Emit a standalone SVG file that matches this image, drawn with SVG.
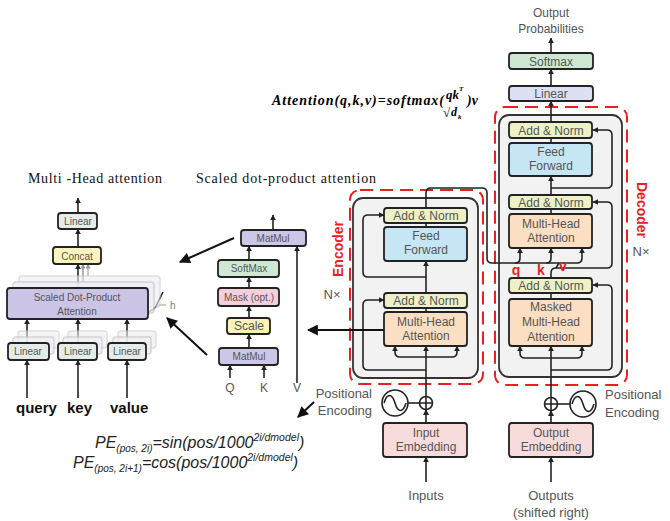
<svg xmlns="http://www.w3.org/2000/svg" width="670" height="521" viewBox="0 0 670 521">
<defs>
<marker id="ah" viewBox="0 0 10 10" refX="9" refY="5" markerWidth="6" markerHeight="6" orient="auto" markerUnits="userSpaceOnUse"><path d="M0,0 L10,5 L0,10 z" fill="#222"/></marker>
<marker id="big" viewBox="0 0 10 10" refX="9" refY="5" markerWidth="13" markerHeight="11" orient="auto" markerUnits="userSpaceOnUse"><path d="M0,0 L10,5 L0,10 z" fill="#111"/></marker>
<marker id="ahg" viewBox="0 0 10 10" refX="9" refY="5" markerWidth="5" markerHeight="5" orient="auto" markerUnits="userSpaceOnUse"><path d="M0,0 L10,5 L0,10 z" fill="#999"/></marker>
</defs>
<style>
.b{stroke:#222;stroke-width:1.8}
.t{font-family:"Liberation Sans",Arial,sans-serif;fill:#555;text-anchor:middle;font-size:12px}
.s{font-size:10px}
.ln{stroke:#222;stroke-width:1.6;fill:none}
.ptr{stroke:#111;stroke-width:2;fill:none}
.red{fill:none;stroke:#e8201f;stroke-width:2;stroke-dasharray:13 7}
.gb{fill:#f2f2f2;stroke:#333;stroke-width:1.8}
.an{fill:#eef1c6}
.ff{fill:#c6e5f5}
.mh{fill:#fcdfc2}
.em{fill:#f8dcdc}
.rl{font-family:"Liberation Sans",Arial,sans-serif;fill:#e8201f;font-weight:bold;font-size:14px;text-anchor:middle}
.g{font-family:"Liberation Sans",Arial,sans-serif;fill:#555;font-size:13px}
.fade{fill:#eeeef4;stroke:#ccc;stroke-width:1.5}
.pe{font-family:"Liberation Sans",Arial,sans-serif;font-style:italic;fill:#222}
</style>

<!-- formula -->
<g id="attention-formula" font-family="'Liberation Serif','Times New Roman',serif" font-weight="bold" font-style="italic" fill="#000">
<text x="272" y="105" font-size="14" textLength="172" lengthAdjust="spacing">Attention(q,k,v)=softmax(</text>
<text x="446" y="99" font-size="13">qk</text>
<text x="459" y="91" font-size="7">T</text>
<text x="443" y="117" font-size="13" font-style="normal">√</text>
<text x="451" y="116" font-size="12">d</text>
<text x="458" y="119" font-size="7">k</text>
<text x="467" y="105" font-size="14">)v</text>
</g>

<!-- titles -->
<text x="28" y="183" font-family="'Liberation Serif','Times New Roman',serif" font-size="14" fill="#111" textLength="134" lengthAdjust="spacing">Multi -Head attention</text>
<text x="196" y="183" font-family="'Liberation Serif','Times New Roman',serif" font-size="14" fill="#111" textLength="180" lengthAdjust="spacing">Scaled dot-product attention</text>

<!-- containers -->
<g id="encoder-block">
<rect x="353" y="198" width="125" height="180" rx="10" class="gb"/>
<rect x="350" y="190" width="133" height="194" rx="10" class="red"/>
<text class="rl" transform="translate(338,249) rotate(-90)" y="5">Encoder</text>
<text class="g" x="332" y="299" text-anchor="middle">N×</text>
</g>
<g id="decoder-block">
<rect x="499" y="115" width="123" height="262" rx="10" class="gb"/>
<rect x="495" y="107" width="132" height="278" rx="10" class="red"/>
<text class="rl" transform="translate(642,210) rotate(90)" y="5">Decoder</text>
<text class="g" x="641" y="256" text-anchor="middle">N×</text>
</g>

<!-- connectors -->
<g id="connectors">
<line x1="551" y1="53" x2="551" y2="38" class="ln" marker-end="url(#ah)"/>
<line x1="551" y1="86" x2="551" y2="69" class="ln" marker-end="url(#ah)"/>
<line x1="551" y1="122" x2="551" y2="101" class="ln" marker-end="url(#ah)"/>
<line x1="551" y1="143" x2="551" y2="138" class="ln"/>
<line x1="551" y1="195" x2="551" y2="176" class="ln" marker-end="url(#ah)"/>
<path d="M551,188 H607 Q612,188 612,183 V135 Q612,130 607,130 H593" class="ln" marker-end="url(#ah)"/>
<line x1="551" y1="214" x2="551" y2="209" class="ln"/>
<path d="M551,278 V273 Q551,268 556,268 H607 Q612,268 612,263 V207 Q612,202 607,202 H593" class="ln" marker-end="url(#ah)"/>
<path d="M556,268 L559,263" class="ln"/>
<line x1="551" y1="299" x2="551" y2="293" class="ln"/>
<path d="M551,370 H607 Q612,370 612,365 V290 Q612,285 607,285 H593" class="ln" marker-end="url(#ah)"/>
<line x1="551" y1="397.5" x2="551" y2="346" class="ln" marker-end="url(#ah)"/>
<path d="M551,358 H525 Q520,358 520,353 V346" class="ln" marker-end="url(#ah)"/>
<path d="M551,358 H577 Q582,358 582,353 V346" class="ln" marker-end="url(#ah)"/>
<path d="M426,208 V193 Q426,188 431,188 H482 Q487,188 487,193 V258 Q487,263 492,263 H577 Q582,263 582,258 V248" class="ln" marker-end="url(#ah)"/>
<path d="M515,263 Q520,263 520,258 V248" class="ln" marker-end="url(#ah)"/>
<path d="M546,263 Q551,263 551,258 V248" class="ln" marker-end="url(#ah)"/>
<line x1="426" y1="227" x2="426" y2="223" class="ln"/>
<line x1="426" y1="293" x2="426" y2="261" class="ln" marker-end="url(#ah)"/>
<path d="M426,277 H368 Q363,277 363,272 V220 Q363,215 368,215 H384" class="ln" marker-end="url(#ah)"/>
<line x1="426" y1="312" x2="426" y2="308" class="ln"/>
<path d="M426,370 H368 Q363,370 363,365 V305 Q363,300 368,300 H384" class="ln" marker-end="url(#ah)"/>
<line x1="426" y1="396.5" x2="426" y2="346" class="ln" marker-end="url(#ah)"/>
<path d="M426,357 H400 Q395,357 395,352 V346" class="ln" marker-end="url(#ah)"/>
<path d="M426,357 H452 Q457,357 457,352 V346" class="ln" marker-end="url(#ah)"/>
<line x1="426" y1="423" x2="426" y2="409.5" class="ln" marker-end="url(#ah)"/>
<line x1="426" y1="482" x2="426" y2="457" class="ln" marker-end="url(#ah)"/>
<line x1="551" y1="423" x2="551" y2="410.5" class="ln" marker-end="url(#ah)"/>
<line x1="551" y1="482" x2="551" y2="457" class="ln" marker-end="url(#ah)"/>
<line x1="408" y1="403" x2="419.5" y2="403" class="ln"/>
<line x1="557.5" y1="404" x2="570" y2="404" class="ln"/>
<line x1="384" y1="330" x2="308" y2="330" class="ptr" marker-end="url(#big)"/>
<line x1="234" y1="238" x2="180" y2="262" class="ptr" marker-end="url(#big)"/>
<line x1="207" y1="355" x2="167" y2="318" class="ptr" marker-end="url(#big)"/>
<line x1="314" y1="402" x2="298" y2="417" class="ptr" marker-end="url(#big)"/>
<line x1="273" y1="230" x2="273" y2="215" class="ln" marker-end="url(#ah)"/>
<line x1="249" y1="260" x2="249" y2="246" class="ln" marker-end="url(#ah)"/>
<line x1="249" y1="288" x2="249" y2="277" class="ln" marker-end="url(#ah)"/>
<line x1="249" y1="318" x2="249" y2="306" class="ln" marker-end="url(#ah)"/>
<line x1="249" y1="348" x2="249" y2="334" class="ln" marker-end="url(#ah)"/>
<line x1="230" y1="378" x2="230" y2="365" class="ln" marker-end="url(#ah)"/>
<line x1="264" y1="378" x2="264" y2="365" class="ln" marker-end="url(#ah)"/>
<line x1="297" y1="383" x2="297" y2="246" class="ln" marker-end="url(#ah)"/>
<line x1="78" y1="213" x2="78" y2="198" class="ln" marker-end="url(#ah)"/>
<line x1="78" y1="247" x2="78" y2="229" class="ln" marker-end="url(#ah)"/>
<line x1="83" y1="282" x2="83" y2="264" stroke="#888" stroke-width="1.3" marker-end="url(#ahg)"/>
<line x1="88" y1="276" x2="88" y2="264" stroke="#aaa" stroke-width="1.3" marker-end="url(#ahg)"/>
<line x1="78" y1="288" x2="78" y2="264" class="ln" marker-end="url(#ah)"/>
<line x1="27" y1="343" x2="27" y2="319" class="ln" marker-end="url(#ah)"/>
<line x1="78" y1="343" x2="78" y2="319" class="ln" marker-end="url(#ah)"/>
<line x1="127" y1="343" x2="127" y2="319" class="ln" marker-end="url(#ah)"/>
<line x1="27" y1="398" x2="27" y2="360" class="ln" marker-end="url(#ah)"/>
<line x1="78" y1="398" x2="78" y2="360" class="ln" marker-end="url(#ah)"/>
<line x1="127" y1="398" x2="127" y2="360" class="ln" marker-end="url(#ah)"/>
<path d="M143,313 Q155,312 158,302 L163,292" class="ln" stroke-width="1.3"/>
<line x1="157" y1="305" x2="166" y2="305" stroke="#999" stroke-width="1"/>
</g>

<g id="output-probabilities"><text class="t" x="551" y="17" font-size="12.5">Output</text><text class="t" x="551" y="33" font-size="12.5">Probabilities</text></g>
<g id="dec-softmax"><rect x="509" y="53" width="84" height="16" rx="3" class="b" fill="#cde8d2"/><text class="t" x="551" y="65.5">Softmax</text></g>
<g id="dec-linear"><rect x="509" y="86" width="84" height="15" rx="3" class="b" fill="#dde0f2"/><text class="t" x="551" y="98">Linear</text></g>
<g id="dec-addnorm3"><rect x="509" y="122" width="83" height="16" rx="3" class="b an"/><text class="t" x="551" y="134.5">Add &amp; Norm</text></g>
<g id="dec-ff"><rect x="509" y="143" width="83" height="33" rx="3" class="b ff"/><text class="t" x="551" y="156">Feed</text><text class="t" x="551" y="170">Forward</text></g>
<g id="dec-addnorm2"><rect x="509" y="195" width="83" height="14" rx="3" class="b an"/><text class="t" x="551" y="206.5">Add &amp; Norm</text></g>
<g id="dec-mha"><rect x="509" y="214" width="83" height="34" rx="3" class="b mh"/><text class="t" x="551" y="228">Multi-Head</text><text class="t" x="551" y="242">Attention</text></g>
<g id="qkv-labels"><text class="rl" x="516" y="275">q</text><text class="rl" x="541" y="275">k</text><text class="rl" x="563" y="271">v</text></g>
<g id="dec-addnorm1"><rect x="509" y="278" width="83" height="15" rx="3" class="b an"/><text class="t" x="551" y="290">Add &amp; Norm</text></g>
<g id="dec-masked-mha"><rect x="509" y="299" width="83" height="47" rx="3" class="b mh"/><text class="t" x="551" y="311">Masked</text><text class="t" x="551" y="326">Multi-Head</text><text class="t" x="551" y="341">Attention</text></g>

<g id="enc-addnorm2"><rect x="384" y="208" width="83" height="15" rx="3" class="b an"/><text class="t" x="426" y="220">Add &amp; Norm</text></g>
<g id="enc-ff"><rect x="384" y="227" width="83" height="34" rx="3" class="b ff"/><text class="t" x="426" y="240">Feed</text><text class="t" x="426" y="254">Forward</text></g>
<g id="enc-addnorm1"><rect x="384" y="293" width="83" height="15" rx="3" class="b an"/><text class="t" x="426" y="305">Add &amp; Norm</text></g>
<g id="enc-mha"><rect x="384" y="312" width="83" height="34" rx="3" class="b mh"/><text class="t" x="426" y="326">Multi-Head</text><text class="t" x="426" y="340">Attention</text></g>

<g id="enc-posenc">
<circle cx="426" cy="403" r="6.5" fill="#fff" class="ln"/><path d="M419.5,403 H432.5 M426,396.5 V409.5" class="ln" stroke-width="1.3"/>
<circle cx="395" cy="403" r="13" fill="#fff" class="ln"/><path d="M384,403 C387,393 392,393 395,403 S403,413 406,403" class="ln" stroke-width="1.3"/>
<text class="g" x="372" y="398" text-anchor="end">Positional</text><text class="g" x="372" y="415" text-anchor="end">Encoding</text>
</g>
<g id="dec-posenc">
<circle cx="551" cy="404" r="6.5" fill="#fff" class="ln"/><path d="M544.5,404 H557.5 M551,397.5 V410.5" class="ln" stroke-width="1.3"/>
<circle cx="583" cy="404" r="13" fill="#fff" class="ln"/><path d="M572,404 C575,394 580,394 583,404 S591,414 594,404" class="ln" stroke-width="1.3"/>
<text class="g" x="605" y="399">Positional</text><text class="g" x="605" y="417">Encoding</text>
</g>
<g id="input-embedding"><rect x="383" y="423" width="84" height="34" rx="3" class="b em"/><text class="t" x="426" y="437">Input</text><text class="t" x="426" y="451">Embedding</text></g>
<g id="output-embedding"><rect x="509" y="423" width="84" height="34" rx="3" class="b em"/><text class="t" x="551" y="437">Output</text><text class="t" x="551" y="451">Embedding</text></g>
<g id="inputs"><text class="g" x="426" y="500" text-anchor="middle">Inputs</text></g>
<g id="outputs"><text class="g" x="551" y="500" text-anchor="middle">Outputs</text><text class="g" x="551" y="517" text-anchor="middle" font-size="12.5">(shifted right)</text></g>

<g id="sdp-matmul2"><rect x="241" y="230" width="65" height="16" rx="3" class="b" fill="#cdc6e6"/><text class="t s" x="273" y="242">MatMul</text></g>
<g id="sdp-softmax"><rect x="218" y="260" width="61" height="17" rx="3" class="b" fill="#cfe8d4"/><text class="t s" x="249" y="272">SoftMax</text></g>
<g id="sdp-mask"><rect x="218" y="288" width="61" height="18" rx="3" class="b" fill="#f6cfdc"/><text class="t s" x="249" y="301">Mask (opt.)</text></g>
<g id="sdp-scale"><rect x="227" y="318" width="43" height="16" rx="3" class="b" fill="#fbf3b8"/><text class="t" x="249" y="330" font-size="11">Scale</text></g>
<g id="sdp-matmul1"><rect x="219" y="348" width="59" height="17" rx="3" class="b" fill="#cdc6e6"/><text class="t s" x="249" y="360">MatMul</text></g>
<g id="sdp-inputs"><text class="t" x="230" y="392" font-size="11">Q</text><text class="t" x="264" y="392" font-size="11">K</text><text class="t" x="297" y="392" font-size="11">V</text></g>

<g id="mh-linear-out"><rect x="58" y="213" width="39" height="16" rx="3" class="b" fill="#e5ebe7"/><text class="t s" x="78" y="225">Linear</text></g>
<g id="mh-concat"><rect x="53" y="247" width="48" height="17" rx="3" class="b" fill="#fbf4c0"/><text class="t s" x="77" y="259.5">Concat</text></g>
<g id="mh-sdpa">
<rect x="19" y="276" width="141" height="31" rx="3" class="fade" opacity="0.6"/>
<rect x="13" y="282" width="141" height="31" rx="3" class="fade" opacity="0.8"/>
<rect x="7" y="288" width="141" height="31" rx="3" class="b" fill="#ccc4e6"/>
<text class="t s" x="77" y="301">Scaled Dot-Product</text><text class="t s" x="77" y="315">Attention</text>
<text x="170" y="309" font-family="'Liberation Sans',Arial,sans-serif" font-size="10" fill="#777">h</text>
</g>
<g id="mh-linear-q">
<rect x="18" y="331" width="41" height="17" rx="3" class="fade" opacity="0.6"/>
<rect x="13" y="337" width="41" height="17" rx="3" class="fade" opacity="0.8"/>
<rect x="8" y="343" width="41" height="17" rx="3" class="b" fill="#e5ebe7"/><text class="t s" x="28" y="355">Linear</text>
</g>
<g id="mh-linear-k">
<rect x="68" y="331" width="39" height="17" rx="3" class="fade" opacity="0.6"/>
<rect x="63" y="337" width="39" height="17" rx="3" class="fade" opacity="0.8"/>
<rect x="58" y="343" width="39" height="17" rx="3" class="b" fill="#e5ebe7"/><text class="t s" x="78" y="355">Linear</text>
</g>
<g id="mh-linear-v">
<rect x="118" y="331" width="38" height="17" rx="3" class="fade" opacity="0.6"/>
<rect x="113" y="337" width="38" height="17" rx="3" class="fade" opacity="0.8"/>
<rect x="108" y="343" width="38" height="17" rx="3" class="b" fill="#e5ebe7"/><text class="t s" x="127" y="355">Linear</text>
</g>
<g id="mh-inputs" font-family="'Liberation Sans',Arial,sans-serif" font-weight="bold" font-size="15" fill="#111">
<text x="16" y="413">query</text><text x="67" y="413">key</text><text x="110" y="413">value</text>
</g>

<g id="pe-formulas" class="pe">
<text x="95" y="448" font-size="16">PE<tspan font-size="10" dy="4">(pos,  2i)</tspan><tspan font-size="16" dy="-4">=sin(pos/1000</tspan><tspan font-size="10.5" dy="-7">2i/dmodel</tspan><tspan font-size="16" dy="7">)</tspan></text>
<text x="73" y="468" font-size="16">PE<tspan font-size="10" dy="4">(pos,  2i+1)</tspan><tspan font-size="16" dy="-4">=cos(pos/1000</tspan><tspan font-size="10.5" dy="-7">2i/dmodel</tspan><tspan font-size="16" dy="7">)</tspan></text>
</g>
</svg>
